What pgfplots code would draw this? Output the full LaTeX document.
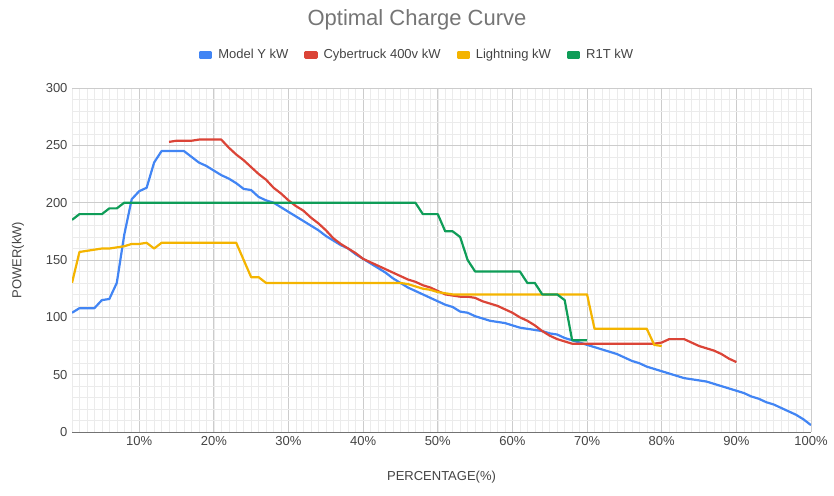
\documentclass[border=0pt]{standalone}
\usepackage{pgfplots}
\pgfplotsset{compat=1.18}
\usepackage{fontspec}
\setmainfont{Liberation Sans}
\definecolor{gblue}{HTML}{4285F4}
\definecolor{gred}{HTML}{DB4437}
\definecolor{gyellow}{HTML}{F4B400}
\definecolor{ggreen}{HTML}{0F9D58}
\definecolor{txt}{HTML}{444444}
\definecolor{ttl}{HTML}{757575}
\begin{document}
\begin{tikzpicture}
\path[use as bounding box] (0,0) rectangle (834pt,495pt);
\node[font=\fontsize{22}{26}\selectfont, text=ttl] at (417pt,475pt) {Optimal Charge Curve};
\begin{axis}[
  at={(72pt,63pt)}, anchor=south west, scale only axis,
  width=739pt, height=344pt,
  xmin=1, xmax=100, ymin=0, ymax=300,
  xtick={10,20,...,100},
  xticklabel={\pgfmathprintnumber{\tick}\%},
  ytick={0,50,...,300},
  minor xtick={1,2,...,100},
  minor ytick={10,20,...,290},
  grid=both,
  major grid style={draw=black!20, line width=0.7pt},
  minor grid style={draw=black!8, line width=0.5pt},
  axis line style={draw=none},
  tick style={draw=none},
  /pgf/number format/assume math mode=true,
  ticklabel style={font=\fontsize{13}{15}\selectfont, text=txt},
  xticklabel style={yshift=-1pt},
  yticklabel style={xshift=-1pt},
  xlabel={PERCENTAGE(\%)},
  ylabel={POWER(kW)},
  label style={font=\fontsize{13}{15}\selectfont, text=txt},
  xlabel style={at={(axis description cs:0.5,0)}, anchor=center, yshift=-45pt},
  ylabel style={at={(axis description cs:0,0.5)}, anchor=center, yshift=54pt},
  legend columns=4,
  legend style={at={(0.467,1.096)}, anchor=center, draw=none, fill=none,
    font=\fontsize{13}{15}\selectfont, text=txt,
    /tikz/every odd column/.append style={column sep=4pt},
    /tikz/every even column/.append style={column sep=14pt}},
  legend image code/.code={\fill[#1] (0pt,-2.5pt) rectangle (11pt,2.5pt);},
  every axis plot/.append style={line width=2.2pt, line join=round, no markers},
]
\addplot[gblue] coordinates {
(1,104)(2,108)(3,108)(4,108)(5,115)(6,116)(7,130)(8,172)(9,203)(10,210)
(11,213)(12,235)(13,245)(14,245)(15,245)(16,245)(17,240)(18,235)(19,232)(20,228)
(21,224)(22,221)(23,217)(24,212)(25,211)(26,205)(27,202)(28,200)(29,196)(30,192)
(31,188)(32,184)(33,180)(34,176)(35,171)(36,167)(37,163)(38,160)(39,155)(40,151)
(41,147)(42,143)(43,139)(44,134)(45,130)(46,126)(47,123)(48,120)(49,117)(50,114)
(51,111)(52,109)(53,105)(54,104)(55,101)(56,99)(57,97)(58,96)(59,95)(60,93)
(61,91)(62,90)(63,89)(64,88)(65,86)(66,85)(67,82)(68,80)(69,78)(70,76)
(71,74)(72,72)(73,70)(74,68)(75,65)(76,62)(77,60)(78,57)(79,55)(80,53)
(81,51)(82,49)(83,47)(84,46)(85,45)(86,44)(87,42)(88,40)(89,38)(90,36)
(91,34)(92,31)(93,29)(94,26)(95,24)(96,21)(97,18)(98,15)(99,11)(100,6)
};
\addlegendentry{Model Y kW}
\addplot[gred] coordinates {
(14,253)(15,254)(16,254)(17,254)(18,255)(19,255)(20,255)(21,255)(22,248)(23,242)
(24,237)(25,231)(26,225)(27,220)(28,213)(29,208)(30,202)(31,197)(32,193)(33,187)
(34,182)(35,176)(36,169)(37,164)(38,160)(39,156)(40,151)(41,148)(42,145)(43,142)
(44,139)(45,136)(46,133)(47,131)(48,128)(49,126)(50,123)(51,120)(52,119)(53,118)
(54,118)(55,117)(56,114)(57,112)(58,110)(59,107)(60,104)(61,100)(62,97)(63,93)
(64,88)(65,84)(66,81)(67,79)(68,77)(69,77)(70,77)(71,77)(72,77)(73,77)
(74,77)(75,77)(76,77)(77,77)(78,77)(79,77)(80,78)(81,81)(82,81)(83,81)
(84,78)(85,75)(86,73)(87,71)(88,68)(89,64)(90,61)
};
\addlegendentry{Cybertruck 400v kW}
\addplot[gyellow] coordinates {
(1,130)(2,157)(3,158)(4,159)(5,160)(6,160)(7,161)(8,162)(9,164)(10,164)
(11,165)(12,160)(13,165)(14,165)(15,165)(16,165)(17,165)(18,165)(19,165)(20,165)
(21,165)(22,165)(23,165)(24,150)(25,135)(26,135)(27,130)(28,130)(29,130)(30,130)
(35,130)(40,130)(45,130)(46,129)(47,127)(48,125)(49,124)(50,122)(51,121)(52,120)
(55,120)(60,120)(65,120)(70,120)(71,90)(72,90)(73,90)(74,90)(75,90)(76,90)
(77,90)(78,90)(79,76)(80,75)
};
\addlegendentry{Lightning kW}
\addplot[ggreen] coordinates {
(1,185)(2,190)(3,190)(4,190)(5,190)(6,195)(7,195)(8,200)(10,200)(20,200)
(30,200)(40,200)(47,200)(48,190)(49,190)(50,190)(51,175)(52,175)(53,170)(54,150)
(55,140)(56,140)(57,140)(58,140)(59,140)(60,140)(61,140)(62,130)(63,130)(64,120)
(65,120)(66,120)(67,115)(68,80)(69,80)(70,80)
};
\addlegendentry{R1T kW}
\draw[black!55, line width=1pt] (axis cs:1,0) -- (axis cs:100,0);
\end{axis}
\end{tikzpicture}
\end{document}
